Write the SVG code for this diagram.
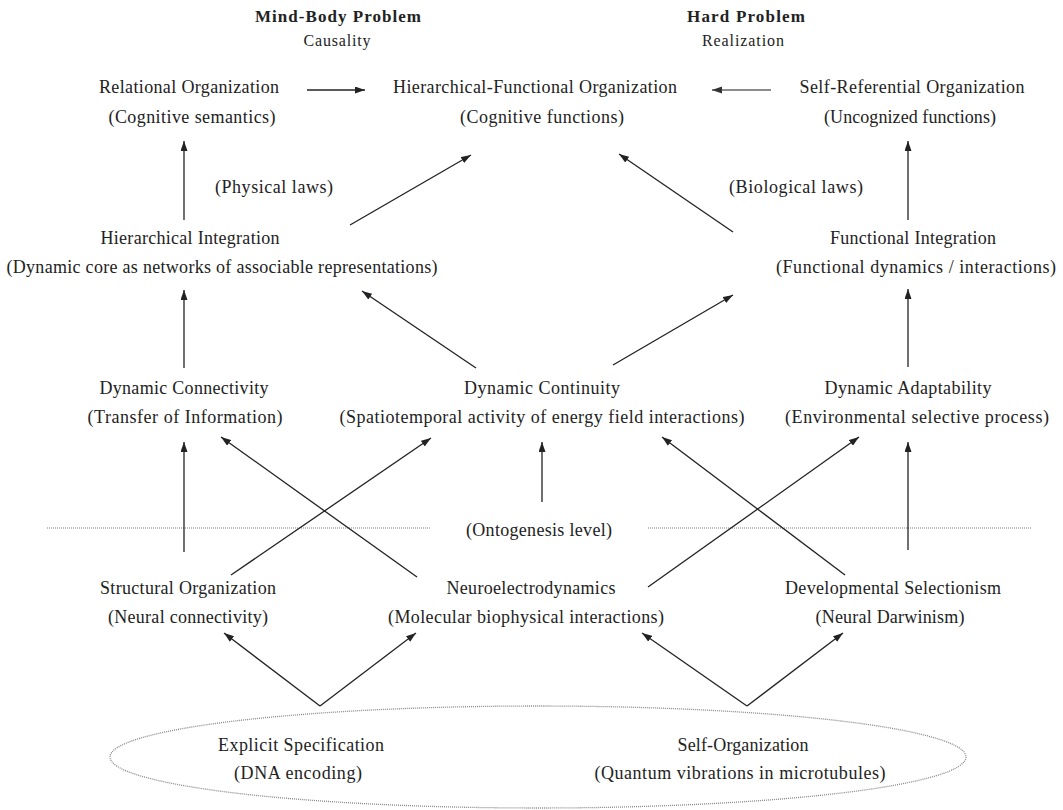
<svg xmlns="http://www.w3.org/2000/svg" width="1063" height="810" viewBox="0 0 1063 810">
<style>
text{font-family:"Liberation Serif","Times New Roman",serif;font-size:18px;fill:#222;text-anchor:middle;lengthAdjust:spacing}
.h{font-weight:bold;font-size:17px}
.s{font-size:16px}
.c line{stroke:#222;stroke-width:1.3;marker-end:url(#ah)}
.c line.g{stroke:#666;marker-end:url(#ahg)}
.dot{stroke:#aaa;stroke-width:1.5;stroke-dasharray:1 1;fill:none}
</style>
<defs>
<marker id="ah" markerUnits="userSpaceOnUse" markerWidth="11" markerHeight="8" refX="10" refY="3.5" orient="auto"><path d="M0,0 L10,3.5 L0,7 z" fill="#222"/></marker>
<marker id="ahg" markerUnits="userSpaceOnUse" markerWidth="11" markerHeight="8" refX="10" refY="3.5" orient="auto"><path d="M0,0 L10,3.5 L0,7 z" fill="#333"/></marker>
</defs>
<rect width="1063" height="810" fill="#fff"/>
<g id="headers">
<text class="h" x="338" y="22" textLength="166">Mind-Body Problem</text>
<text class="s" x="337" y="46" textLength="67">Causality</text>
<text class="h" x="746" y="22" textLength="118">Hard Problem</text>
<text class="s" x="743" y="46" textLength="82">Realization</text>
</g>
<g id="relational"><text x="189" y="93" textLength="180">Relational Organization</text><text x="192" y="123" textLength="167">(Cognitive semantics)</text></g>
<g id="hierfunc"><text x="535" y="93" textLength="284">Hierarchical-Functional Organization</text><text x="542" y="123" textLength="164">(Cognitive functions)</text></g>
<g id="selfref"><text x="912" y="93" textLength="225">Self-Referential Organization</text><text x="910" y="123" textLength="172">(Uncognized functions)</text></g>
<g id="physlaws"><text x="274" y="193" textLength="118">(Physical laws)</text></g>
<g id="biolaws"><text x="796" y="193" textLength="134">(Biological laws)</text></g>
<g id="hierint"><text x="190" y="244" textLength="179">Hierarchical Integration</text><text x="222" y="273" textLength="431">(Dynamic core as networks of associable representations)</text></g>
<g id="funcint"><text x="913" y="244" textLength="166">Functional Integration</text><text x="916" y="273" textLength="280">(Functional dynamics / interactions)</text></g>
<g id="dynconn"><text x="184" y="394" textLength="169">Dynamic Connectivity</text><text x="185" y="423" textLength="195">(Transfer of Information)</text></g>
<g id="dyncont"><text x="542" y="394" textLength="156">Dynamic Continuity</text><text x="542" y="423" textLength="405">(Spatiotemporal activity of energy field interactions)</text></g>
<g id="dynadapt"><text x="908" y="394" textLength="167">Dynamic Adaptability</text><text x="917" y="423" textLength="264">(Environmental selective process)</text></g>
<g id="ontogenesis">
<line class="dot" x1="47" y1="528" x2="431" y2="528"/>
<line class="dot" x1="648" y1="528" x2="1032" y2="528"/>
<text x="539" y="536" textLength="146">(Ontogenesis level)</text>
</g>
<g id="structorg"><text x="188" y="594" textLength="176">Structural Organization</text><text x="188" y="623" textLength="160">(Neural connectivity)</text></g>
<g id="neuro"><text x="531" y="594" textLength="169">Neuroelectrodynamics</text><text x="526" y="623" textLength="276">(Molecular biophysical interactions)</text></g>
<g id="devsel"><text x="893" y="594" textLength="216">Developmental Selectionism</text><text x="890" y="623" textLength="149">(Neural Darwinism)</text></g>
<g id="origin">
<ellipse cx="538" cy="757" rx="428" ry="51" fill="none" stroke="#888" stroke-width="1.3" stroke-dasharray="1 1"/>
<g id="explicit"><text x="301" y="751" textLength="166">Explicit Specification</text><text x="298" y="779" textLength="128">(DNA encoding)</text></g>
<g id="selforg"><text x="743" y="751" textLength="131">Self-Organization</text><text x="740" y="779" textLength="291">(Quantum vibrations in microtubules)</text></g>
</g>
<g id="connectors" class="c">
<line x1="307" y1="90" x2="365" y2="90"/>
<line class="g" x1="771" y1="90" x2="712" y2="90"/>
<line x1="184" y1="220" x2="184" y2="141"/>
<line x1="350" y1="225" x2="471" y2="155"/>
<line x1="733" y1="232" x2="619" y2="154"/>
<line x1="908" y1="220" x2="908" y2="141"/>
<line x1="184" y1="368" x2="184" y2="290"/>
<line x1="476" y1="368" x2="362" y2="291"/>
<line x1="613" y1="365" x2="733" y2="295"/>
<line x1="908" y1="367" x2="908" y2="289"/>
<line x1="184" y1="552" x2="184" y2="442"/>
<line x1="417" y1="577" x2="221" y2="437"/>
<line x1="231" y1="575" x2="431" y2="438"/>
<line x1="542" y1="502" x2="542" y2="442"/>
<line x1="648" y1="587" x2="859" y2="437"/>
<line x1="845" y1="575" x2="662" y2="437"/>
<line x1="908" y1="550" x2="908" y2="442"/>
<line x1="320" y1="706" x2="224" y2="633"/>
<line x1="320" y1="706" x2="416" y2="633"/>
<line x1="747" y1="706" x2="642" y2="633"/>
<line x1="747" y1="706" x2="843" y2="633"/>
</g>
</svg>
